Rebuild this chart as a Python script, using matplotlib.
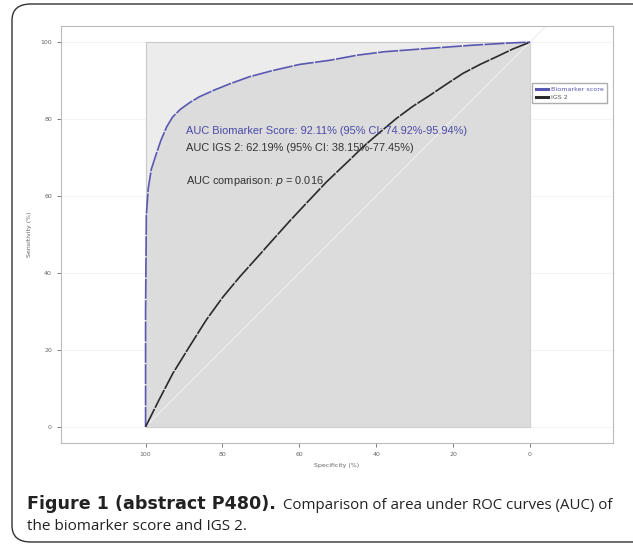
import matplotlib.pyplot as plt
import numpy as np
from matplotlib.patches import FancyBboxPatch, Rectangle

# ROC curves (specificity %, sensitivity %)
bio_spec = np.array([100, 100, 99.8, 99.3, 98.5, 97.2, 96, 94.5, 93, 91, 88.5, 86, 82, 78, 73, 67, 60, 52, 45, 38, 26, 15, 5, 0])
bio_sens = np.array([0, 30, 55, 62, 67, 71, 74.5, 78, 80.5, 82.5, 84.3, 85.8, 87.6, 89.2, 91, 92.6, 94.2, 95.3, 96.6, 97.5, 98.4, 99.2, 99.8, 100])
igs_spec = np.array([100, 96.5, 92.9, 88.5, 84.2, 80, 75.5, 71, 66.9, 62.5, 58.2, 53, 46.9, 43.4, 39, 34.7, 30.5, 26, 21.7, 17.4, 13, 8.7, 4.5, 0])
igs_sens = np.array([0, 7, 13.9, 21, 27.8, 33.6, 39, 44, 48.6, 53.5, 58.1, 63.6, 69.4, 72.8, 76.6, 80.2, 83.3, 86.2, 89.1, 91.9, 94.2, 96.2, 98.2, 100])
yticks = [0, 20, 40, 60, 80, 100]
xticks = [100, 80, 60, 40, 20, 0]
auc_texts = ["AUC Biomarker Score: 92.11% (95% CI: 74.92%-95.94%)",
             "AUC IGS 2: 62.19% (95% CI: 38.15%-77.45%)",
             "AUC comparison: $p$ = 0.016"]

fig = plt.figure(figsize=(6.33, 5.46), dpi=100)

# rounded frame around the whole figure
frame = FancyBboxPatch((12/633, 4/546), 640/633, 538/546,
                       boxstyle="round,pad=0,rounding_size=0.03",
                       transform=fig.transFigure, fill=False,
                       edgecolor='#333333', linewidth=1.0)
fig.patches.append(frame)

ax = fig.add_axes([61/633, 1-443/546, 552/633, 417/546])
ax.set_xlim(122, -21.6)
ax.set_ylim(-4.2, 104.2)

# faint grid lines in the white margin
for y in yticks:
    ax.axhline(y, color='#f4f4f4', lw=0.8, zorder=0)

# light square, darker area under the biomarker curve
ax.add_patch(Rectangle((0, 0), 100, 100, facecolor='#ececec', edgecolor='#c8c8c8', lw=0.8, zorder=1))
ax.fill_between(bio_spec, 0, bio_sens, color='#dcdcdc', lw=0, zorder=1.5)
ax.plot([100, -6], [0, 106], color='#eeeeee', lw=0.8, zorder=2)

ax.plot(bio_spec, bio_sens, color='#5858b2', lw=1.2, linestyle=(0, (12, 0.8)), label='Biomarker score', zorder=3)
ax.plot(igs_spec, igs_sens, color='#2a2a2a', lw=1.2, linestyle=(0, (12, 0.8)), label='IGS 2', zorder=3)

ax.text(89.5, 76.1, auc_texts[0], color='#4a4aa8', fontsize=7.9, family='Liberation Sans', zorder=4)
ax.text(89.5, 71.8, auc_texts[1], color='#333333', fontsize=7.9, family='Liberation Sans', zorder=4)
ax.text(89.5, 63.2, auc_texts[2], color='#333333', fontsize=7.9, family='Liberation Sans', zorder=4)

ax.set_xticks(xticks)
ax.set_yticks(yticks)
ax.tick_params(labelsize=4.5, colors='#666666', length=3, width=0.6)
ax.set_xlabel('Specificity (%)', fontsize=4.5, color='#666666', labelpad=4)
ax.set_ylabel('Sensitivity (%)', fontsize=4.5, color='#666666', labelpad=6)
for s in ax.spines.values():
    s.set_color('#bbbbbb')
    s.set_linewidth(0.8)

leg = ax.legend(loc='upper right', bbox_to_anchor=(0.995, 0.87), fontsize=4.6, frameon=True,
                fancybox=False, edgecolor='#999999', handlelength=2.0, borderpad=0.5,
                labelspacing=0.35, handletextpad=0.4)
for line in leg.get_lines():
    line.set_linewidth(2.2)
    line.set_linestyle('-')
leg.get_texts()[0].set_color('#5858b2')
leg.get_texts()[1].set_color('#555555')

fig.text(27/633, 1-509/546, 'Figure 1 (abstract P480).', fontsize=12.6, family='DejaVu Sans',
         weight='bold', color='#222222')
fig.text(283/633, 1-509/546, 'Comparison of area under ROC curves (AUC) of',
         fontsize=10.8, family='Open Sans', color='#222222')
fig.text(27/633, 1-530/546, 'the biomarker score and IGS 2.', fontsize=11, family='Open Sans', color='#222222')

fig.savefig('out.png', dpi=100)
